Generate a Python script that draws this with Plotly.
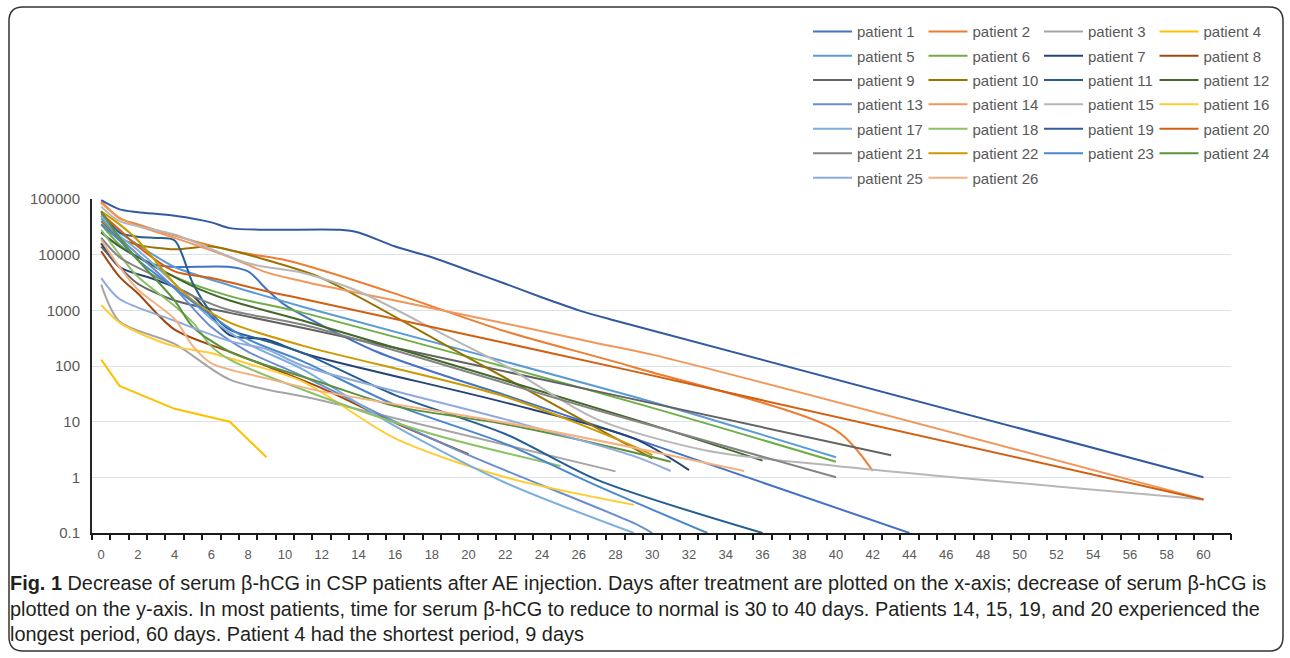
import plotly.graph_objects as go

# ---------------- data ----------------
p1_day = [0, 1, 2, 3, 4, 7, 8, 9, 10, 15, 19, 22, 29, 44]
p1_hcg = [25000, 14000, 9000, 6500, 6000, 6000, 5000, 2400, 1250, 180, 62, 30, 5, 0.1]
p2_day = [0, 1, 2, 4, 7, 10, 11, 16, 22, 29, 40, 42]
p2_hcg = [90000, 45000, 35000, 22000, 12000, 8000, 6600, 2000, 420, 95, 7, 1.3]
p3_day = [0, 1, 4, 7, 12, 28]
p3_hcg = [2900, 630, 250, 57, 24, 1.28]
p4_day = [0, 1, 4, 7, 9]
p4_hcg = [130, 44, 17, 10, 2.3]
p5_day = [0, 1, 2, 4, 7, 11, 29, 40]
p5_hcg = [50000, 25000, 15000, 6000, 2800, 1150, 28, 2.3]
p6_day = [0, 1, 2, 4, 7, 11, 29, 40]
p6_hcg = [35000, 15000, 9000, 4000, 1800, 900, 22, 1.9]
p7_day = [0, 1, 3, 5, 7, 9, 11, 22, 29, 32]
p7_hcg = [16000, 6000, 3500, 1800, 360, 300, 170, 22, 5, 1.35]
p8_day = [0, 1, 2, 4, 7, 9, 12, 16, 20]
p8_hcg = [11500, 4000, 2000, 450, 180, 100, 40, 9.5, 2.6]
p9_day = [0, 1, 2, 4, 7, 11, 27, 43]
p9_hcg = [14000, 6000, 3000, 1500, 900, 480, 35, 2.5]
p10_day = [0, 1, 2, 4, 6, 8, 9, 12, 20, 30]
p10_hcg = [40000, 20000, 15000, 12500, 14000, 10000, 8000, 3800, 140, 2.2]
p11_day = [0, 1, 2, 3, 4, 5, 6, 7, 9, 11, 16, 22, 27, 36]
p11_hcg = [60000, 25000, 21000, 20000, 18000, 3000, 900, 450, 280, 170, 30, 6, 0.9, 0.1]
p12_day = [0, 1, 2, 5, 7, 11, 29, 36]
p12_hcg = [25000, 14000, 9000, 2700, 1500, 650, 11, 2.0]
p13_day = [0, 1, 2, 4, 6, 8, 11, 16, 20, 29, 30]
p13_hcg = [45000, 20000, 10000, 2500, 500, 180, 65, 10, 2.5, 0.15, 0.1]
p14_day = [0, 1, 2, 4, 7, 9, 11, 16, 22, 27, 30, 60]
p14_hcg = [85000, 46000, 33000, 20000, 9000, 4800, 3300, 1500, 580, 257, 160, 0.4]
p15_day = [0, 1, 4, 8, 11, 14, 19, 22, 27, 33, 40, 60]
p15_hcg = [73000, 40000, 23000, 7000, 4700, 2200, 320, 100, 11, 3, 1.6, 0.4]
p16_day = [0, 1, 2, 4, 6, 8, 11, 16, 22, 29]
p16_hcg = [1250, 600, 400, 225, 170, 110, 52, 5, 1.0, 0.32]
p17_day = [0, 1, 2, 4, 6, 8, 11, 16, 22, 29]
p17_hcg = [50000, 22000, 12000, 3000, 700, 250, 86, 8.3, 0.8, 0.1]
p18_day = [0, 1, 2, 4, 5, 6, 7, 12, 18, 25]
p18_hcg = [28000, 10000, 4000, 1200, 600, 225, 130, 28, 6, 1.6]
p19_day = [0, 1, 2, 4, 6, 7, 9, 13, 14, 16, 18, 20, 22, 24, 26, 28, 60]
p19_hcg = [95000, 65000, 58000, 50000, 38000, 30000, 28000, 28000, 25000, 14000,
           9000, 5200, 3000, 1700, 1000, 650, 1.0]
p20_day = [0, 1, 2, 4, 6, 9, 11, 29, 60]
p20_hcg = [55000, 28000, 14000, 5000, 3800, 2200, 1600, 80, 0.4]
p21_day = [0, 1, 3, 5, 7, 11, 27, 40]
p21_hcg = [20000, 9000, 4000, 1800, 1000, 550, 16, 1.0]
p22_day = [0, 1, 2, 4, 5, 7, 11, 22, 29, 30]
p22_hcg = [60000, 35000, 18000, 3000, 1500, 600, 230, 28, 3.6, 2.5]
p23_day = [0, 1, 2, 4, 6, 8, 11, 16, 22, 27, 33]
p23_hcg = [35000, 18000, 8000, 2500, 800, 300, 120, 20, 4, 0.7, 0.1]
p24_day = [0, 1, 2, 4, 5, 7, 12, 16, 22, 29, 31]
p24_hcg = [60000, 20000, 8000, 1500, 500, 180, 50, 19, 9, 2.8, 1.9]
p25_day = [0, 1, 4, 7, 9, 11, 22, 29, 31]
p25_hcg = [3800, 1600, 650, 280, 200, 100, 11, 2.4, 1.3]
p26_day = [0, 1, 2, 4, 5, 6, 9, 12, 22, 29, 35]
p26_hcg = [18500, 6000, 2350, 700, 225, 112, 60, 35, 9.6, 3.4, 1.3]

patient_names = ["patient %d" % i for i in range(1, 27)]
x_tick_values = list(range(0, 61, 2))
y_tick_values = [0.1, 1, 10, 100, 1000, 10000, 100000]
y_tick_labels = ["0.1", "1", "10", "100", "1000", "10000", "100000"]

series_days = [p1_day, p2_day, p3_day, p4_day, p5_day, p6_day, p7_day, p8_day, p9_day,
               p10_day, p11_day, p12_day, p13_day, p14_day, p15_day, p16_day, p17_day,
               p18_day, p19_day, p20_day, p21_day, p22_day, p23_day, p24_day, p25_day,
               p26_day]
series_hcg = [p1_hcg, p2_hcg, p3_hcg, p4_hcg, p5_hcg, p6_hcg, p7_hcg, p8_hcg, p9_hcg,
              p10_hcg, p11_hcg, p12_hcg, p13_hcg, p14_hcg, p15_hcg, p16_hcg, p17_hcg,
              p18_hcg, p19_hcg, p20_hcg, p21_hcg, p22_hcg, p23_hcg, p24_hcg, p25_hcg,
              p26_hcg]

colors = ["#4472C4", "#ED7D31", "#A5A5A5", "#FFC000", "#5B9BD5", "#70AD47",
          "#264478", "#9E480E", "#636363", "#997300", "#255E91", "#43682B",
          "#698ED0", "#F1975A", "#B7B7B7", "#FFCD33", "#7CAFDD", "#8CC168",
          "#335AA1", "#D26012", "#848484", "#CC9A00", "#4A88CB", "#5B923B",
          "#8FAADC", "#F4B183"]

# ---------------- layout geometry (pixels) ----------------
W, H = 1290, 658
ML, MR, MT, MB = 92, 59, 199, 125
PW, PH = W - ML - MR, H - MT - MB


def px_x(px):
    return (px - ML) / PW


def px_y(py):
    return (MT + PH - py) / PH


fig = go.Figure()

for i in range(26):
    row = i // 4
    leg = "legend" if row == 0 else "legend%d" % (row + 1)
    fig.add_trace(go.Scatter(
        x=series_days[i], y=series_hcg[i], mode="lines", name=patient_names[i],
        line=dict(color=colors[i], width=2,
                  shape="linear" if i == 3 else "spline", smoothing=0.8),
        legend=leg, hoverinfo="x+y+name"))

# overlay axis that only carries the tick marks between categories
fig.add_trace(go.Scatter(x=[None], y=[None], xaxis="x2", yaxis="y",
                         showlegend=False, hoverinfo="skip"))

tick_font = dict(family="Liberation Sans", size=15, color="#595959")

fig.update_layout(
    width=W, height=H,
    margin=dict(l=ML, r=MR, t=MT, b=MB, autoexpand=False),
    paper_bgcolor="white", plot_bgcolor="white",
    showlegend=True,
    xaxis=dict(range=[-0.5, 61.5], tickmode="array", tickvals=x_tick_values,
               ticktext=[str(v) for v in x_tick_values], ticks="",
               showgrid=False, zeroline=False, showline=True,
               linecolor="#1a1a1a", linewidth=2,
               tickfont=dict(family="Liberation Sans", size=13, color="#595959"),
               ticklabelstandoff=8),
    xaxis2=dict(range=[-0.5, 61.5], overlaying="x", anchor="y", side="bottom",
                tickmode="array", tickvals=[k - 0.5 for k in range(0, 63)],
                ticks="outside", ticklen=6, tickwidth=1.5, tickcolor="#1a1a1a",
                showticklabels=False, showgrid=False, zeroline=False, showline=False),
    yaxis=dict(type="log", range=[-1, 5], tickmode="array", tickvals=y_tick_values,
               ticktext=y_tick_labels, ticks="", showgrid=True,
               gridcolor="#DDE2EA", gridwidth=1, zeroline=False, showline=True,
               linecolor="#262626", linewidth=2, tickfont=tick_font,
               ticklabelstandoff=7),
)

# seven legend rows, four entries per row
row_centers = [31.7, 56.0, 80.3, 104.6, 129.0, 153.5, 178.0]
for r, cy in enumerate(row_centers):
    key = "legend" if r == 0 else "legend%d" % (r + 1)
    fig.update_layout({key: dict(
        orientation="h", x=px_x(808), xanchor="left", y=px_y(cy), yanchor="middle",
        entrywidth=61.5, entrywidthmode="pixels", itemwidth=39,
        font=dict(family="Liberation Sans", size=15, color="#595959"),
        bgcolor="rgba(0,0,0,0)", borderwidth=0, traceorder="normal")})

# caption
caption_lines = [
    "<b>Fig. 1</b> Decrease of serum β-hCG in CSP patients after AE injection. Days after treatment are plotted on the x-axis; decrease of serum β-hCG is",
    "plotted on the y-axis. In most patients, time for serum β-hCG to reduce to normal is 30 to 40 days. Patients 14, 15, 19, and 20 experienced the",
    "longest period, 60 days. Patient 4 had the shortest period, 9 days",
]
for k, (txt, cy) in enumerate(zip(caption_lines, [583, 609, 634])):
    fig.add_annotation(text=txt, xref="paper", yref="paper", x=px_x(8), y=px_y(cy),
                       xanchor="left", yanchor="middle", showarrow=False,
                       font=dict(family="Liberation Sans", size=19.9, color="#231F20"))

# rounded frame around the figure
L, T, R, B, rad = 9, 7, 1283, 651, 14


def pt(px, py):
    return "%.5f,%.5f" % (px_x(px), px_y(py))


frame_path = ("M " + pt(L + rad, T) + " L " + pt(R - rad, T) + " Q " + pt(R, T) + " " + pt(R, T + rad)
              + " L " + pt(R, B - rad) + " Q " + pt(R, B) + " " + pt(R - rad, B)
              + " L " + pt(L + rad, B) + " Q " + pt(L, B) + " " + pt(L, B - rad)
              + " L " + pt(L, T + rad) + " Q " + pt(L, T) + " " + pt(L + rad, T) + " Z")
fig.add_shape(type="path", path=frame_path, xref="paper", yref="paper",
              line=dict(color="#333333", width=1.5), layer="above")

fig.write_html("out.html", config={"displayModeBar": False},
               post_script="document.body.style.margin='0';document.body.style.overflow='hidden';")
